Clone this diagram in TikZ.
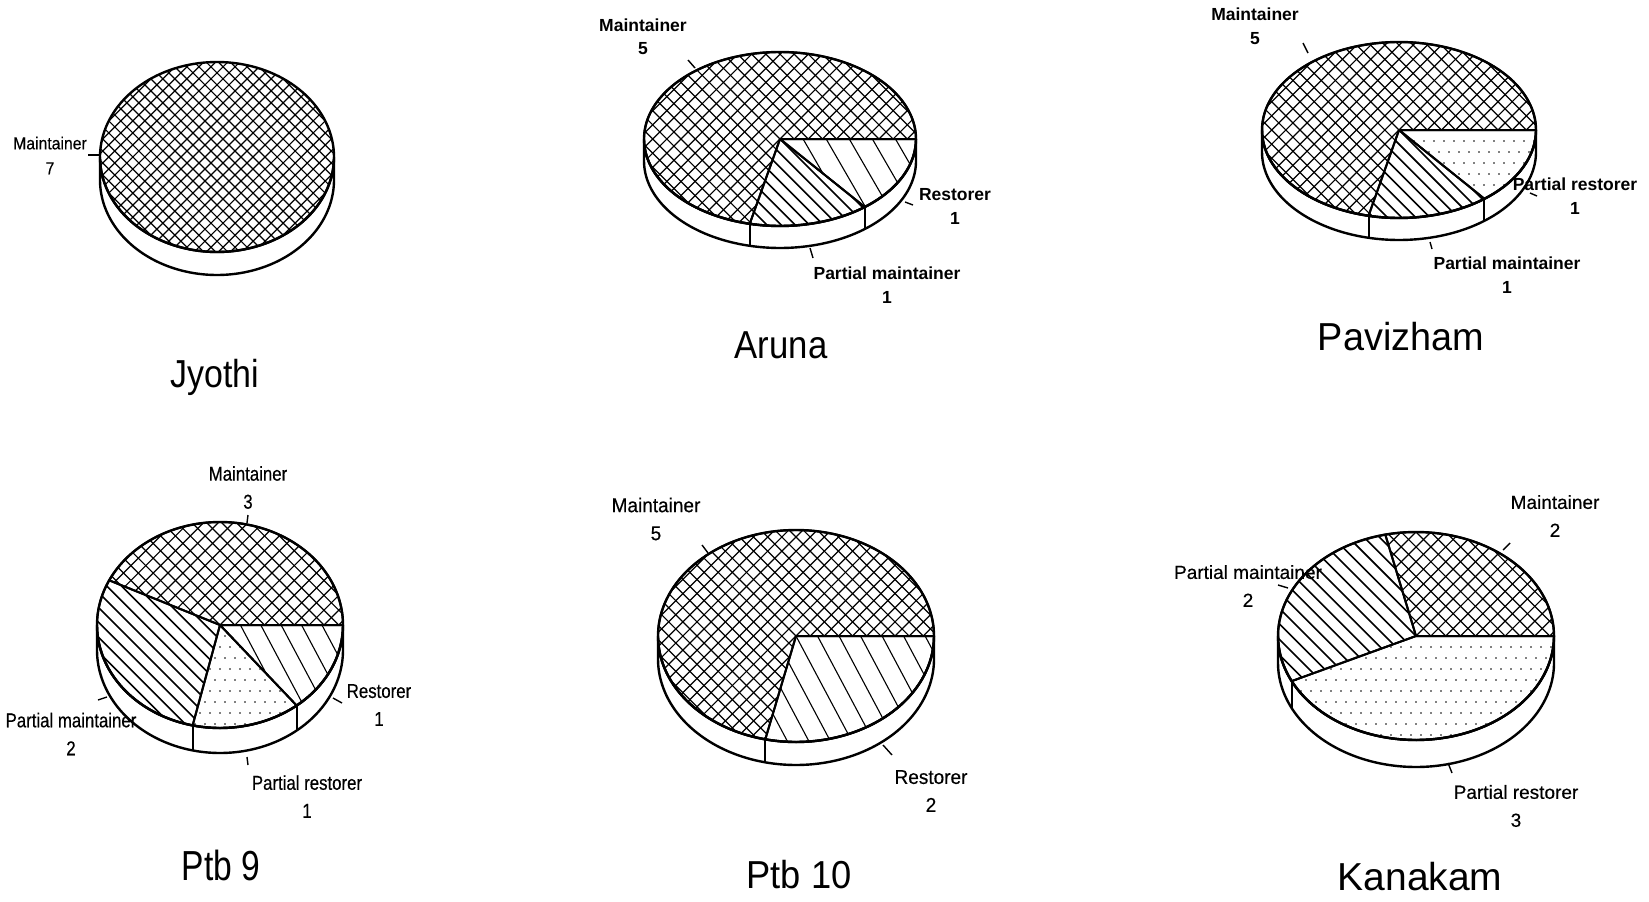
\documentclass[tikz,border=0pt]{standalone}
\usepackage{graphicx}
\usepackage{fontspec}
\setmainfont{Liberation Sans}
\newfontfamily\fj{Liberation Sans}[FakeStretch=0.9,FakeBold=0.3]
\newfontfamily\fp{Liberation Sans}[FakeStretch=0.84,FakeBold=0.4]
\newfontfamily\fq{Liberation Sans}[FakeStretch=0.95,FakeBold=0.4]
\newfontfamily\fk{Liberation Sans}[FakeBold=0.4]

\newcommand\setpie[5]{\def\pcx{#1}\def\pcy{#2}\def\prx{#3}\def\pry{#4}\def\pdp{#5}}
\newcommand\pieside{%
  \draw[outline, fill=white] plot[domain=0:180,samples=90] ({\pcx+\prx*cos(\x)},{\pcy+\pdp+\pry*sin(\x)})
     -- plot[domain=180:0,samples=90] ({\pcx+\prx*cos(\x)},{\pcy+\pry*sin(\x)}) -- cycle;}
\newcommand\pietop{%
  \draw[outline] plot[domain=0:360,samples=150] ({\pcx+\prx*cos(\x)},{\pcy+\pry*sin(\x)}) -- cycle;}
\newcommand\slice[3]{%
  \begin{scope}
    \clip (\pcx,\pcy) -- plot[domain=#1:#2,samples=80] ({\pcx+\prx*cos(\x)},{\pcy+\pry*sin(\x)}) -- cycle;
    #3
  \end{scope}
  \draw[edge] (\pcx,\pcy) -- plot[domain=#1:#2,samples=80] ({\pcx+\prx*cos(\x)},{\pcy+\pry*sin(\x)}) -- cycle;}
\newcommand\sideline[1]{\draw[edge] ({\pcx+\prx*cos(#1)},{\pcy+\pry*sin(#1)}) -- ++(0,\pdp);}
% hatch lines: angle, spacing, width
\newcommand\hlines[3]{%
  \foreach \k in {-22,...,22}{\draw[line width=#3] (\pcx,\pcy) ++({#1+90}:{\k*#2}) ++(#1:-220) -- ++(#1:440);}}
\newcommand\crossh[1]{\hlines{45}{#1}{1.2pt}\hlines{-45}{#1}{1.2pt}}
\newcommand\dotgrid[2]{%
  \foreach \i in {-15,...,15}{\foreach \j in {-11,...,11}{%
    \fill ({\pcx+\i*#1+abs(mod(\j,2))*#1/2},{\pcy+\j*#2}) circle[radius=0.85];}}}

\tikzset{
  outline/.style={line width=2.4pt, line join=round},
  edge/.style={line width=2pt, line join=round},
  tick/.style={line width=1.4pt},
  lbltop/.style={font=\bfseries\fontsize{17.5}{23.5}\selectfont, align=center, inner sep=0pt},
  lblj/.style={font=\fj\fontsize{17.5}{25}\selectfont, align=center, inner sep=0pt},
  lblp/.style={font=\fp\fontsize{20}{28}\selectfont, align=center, inner sep=0pt},
  lblq/.style={font=\fq\fontsize{20}{28}\selectfont, align=center, inner sep=0pt},
  lblk/.style={font=\fk\fontsize{19}{28}\selectfont, align=center, inner sep=0pt},
  ttl/.style={anchor=base, inner sep=0pt, font=\fontsize{39}{44}\selectfont},
}

\begin{document}
\begin{tikzpicture}[x=1pt,y=-1pt]
\useasboundingbox (0,0) rectangle (1649,902);
\fill[white] (0,0) rectangle (1649,902);

% ---------------- Jyothi
\begin{scope}
\setpie{217}{157}{117}{95}{23}
\pieside
\begin{scope}
  \clip plot[domain=0:360,samples=150] ({\pcx+\prx*cos(\x)},{\pcy+\pry*sin(\x)}) -- cycle;
  \crossh{8.5}
\end{scope}
\pietop
\end{scope}
\node[lblj] (jm) at (50,155.5) {Maintainer\\7};
\coordinate (jm1) at (88,155); \coordinate (jm2) at (100,155);
\draw[tick] (jm1) -- (jm2);
\node[ttl] (tj) at (215,387) {\scalebox{0.87}[1]{Jyothi}};

% ---------------- Aruna
\begin{scope}
\setpie{780}{139}{136}{87}{22}
\pieside
\slice{0}{51.43}{\hlines{60}{20}{1.1pt}}
\slice{51.43}{102.86}{\hlines{45}{10}{1.6pt}}
\slice{102.86}{360}{\crossh{10}}
\pietop
\sideline{51.43}\sideline{102.86}
\end{scope}
\node[lbltop] (am) at (643,36.5) {Maintainer\\5};
\node[lbltop] (ar) at (955,206.5) {Restorer\\1};
\node[lbltop] (ap) at (887,285) {Partial maintainer\\1};
\coordinate (am1) at (688,60); \coordinate (am2) at (695,68);
\coordinate (ar1) at (905,202); \coordinate (ar2) at (913,205);
\coordinate (ap1) at (810,248); \coordinate (ap2) at (813,258);
\draw[tick] (am1) -- (am2); \draw[tick] (ar1) -- (ar2); \draw[tick] (ap1) -- (ap2);
\node[ttl] (ta) at (781,358) {\scalebox{0.89}[1]{Aruna}};

% ---------------- Pavizham
\begin{scope}
\setpie{1399}{130}{137}{88}{22}
\pieside
\slice{0}{51.43}{\dotgrid{10}{11}}
\slice{51.43}{102.86}{\hlines{45}{10}{1.6pt}}
\slice{102.86}{360}{\crossh{10}}
\pietop
\sideline{51.43}\sideline{102.86}
\end{scope}
\node[lbltop] (pm) at (1255,26) {Maintainer\\5};
\node[lbltop] (pr) at (1575,196) {Partial restorer\\1};
\node[lbltop] (pp) at (1507,275) {Partial maintainer\\1};
\coordinate (pm1) at (1303,43); \coordinate (pm2) at (1308,53);
\coordinate (pr1) at (1530,193); \coordinate (pr2) at (1537,196);
\coordinate (pp1) at (1430,242); \coordinate (pp2) at (1432,249);
\draw[tick] (pm1) -- (pm2); \draw[tick] (pr1) -- (pr2); \draw[tick] (pp1) -- (pp2);
\node[ttl] (tp) at (1401,350) {\scalebox{0.97}[1]{Pavizham}};

% ---------------- Ptb 9
\begin{scope}
\setpie{220}{625}{123}{103}{25}
\pieside
\slice{0}{51.43}{\hlines{62}{18}{1.1pt}}
\slice{51.43}{102.86}{\dotgrid{10}{11}}
\slice{102.86}{205.71}{\hlines{45}{10.5}{1.6pt}}
\slice{205.71}{360}{\crossh{10.5}}
\pietop
\sideline{51.43}\sideline{102.86}
\end{scope}
\node[lblp] (bm) at (248,487.5) {Maintainer\\3};
\node[lblp] (br) at (379,705) {Restorer\\1};
\node[lblp] (bp) at (71,734) {Partial maintainer\\2};
\node[lblp] (bs) at (307,796.5) {Partial restorer\\1};
\coordinate (bm1) at (248,515); \coordinate (bm2) at (247,523);
\coordinate (br1) at (333,698); \coordinate (br2) at (342,703);
\coordinate (bp1) at (98,700); \coordinate (bp2) at (107,697);
\coordinate (bs1) at (247,757); \coordinate (bs2) at (248,765);
\draw[tick] (bm1) -- (bm2); \draw[tick] (br1) -- (br2); \draw[tick] (bp1) -- (bp2); \draw[tick] (bs1) -- (bs2);
\node[ttl, font=\fontsize{42}{46}\selectfont] (tb) at (221,880) {\scalebox{0.8}[1]{Ptb 9}};

% ---------------- Ptb 10
\begin{scope}
\setpie{796}{636}{138}{106}{23}
\pieside
\slice{0}{102.86}{\hlines{62}{19}{1.1pt}}
\slice{102.86}{360}{\crossh{10}}
\pietop
\sideline{102.86}
\end{scope}
\node[lblq] (qm) at (656,519) {Maintainer\\5};
\node[lblq] (qr) at (931,791) {Restorer\\2};
\coordinate (qm1) at (702,545); \coordinate (qm2) at (708,553);
\coordinate (qr1) at (883,745); \coordinate (qr2) at (892,755);
\draw[tick] (qm1) -- (qm2); \draw[tick] (qr1) -- (qr2);
\node[ttl] (tq) at (799,888) {\scalebox{0.93}[1]{Ptb 10}};

% ---------------- Kanakam
\begin{scope}
\setpie{1416}{636}{138}{104}{27}
\pieside
\slice{0}{154.29}{\dotgrid{10}{11}}
\slice{154.29}{257.14}{\hlines{45}{11}{1.6pt}}
\slice{257.14}{360}{\crossh{10.5}}
\pietop
\sideline{154.29}
\end{scope}
\node[lblk] (km) at (1555,516) {Maintainer\\2};
\node[lblk] (kp) at (1248,586) {Partial maintainer\\2};
\node[lblk] (kr) at (1516,806) {Partial restorer\\3};
\coordinate (km1) at (1503,550); \coordinate (km2) at (1510,543);
\coordinate (kp1) at (1278,585); \coordinate (kp2) at (1288,588);
\coordinate (kr1) at (1448,763); \coordinate (kr2) at (1452,773);
\draw[tick] (km1) -- (km2); \draw[tick] (kp1) -- (kp2); \draw[tick] (kr1) -- (kr2);
\node[ttl] (tk) at (1420,890) {Kanakam};
\end{tikzpicture}
\end{document}
